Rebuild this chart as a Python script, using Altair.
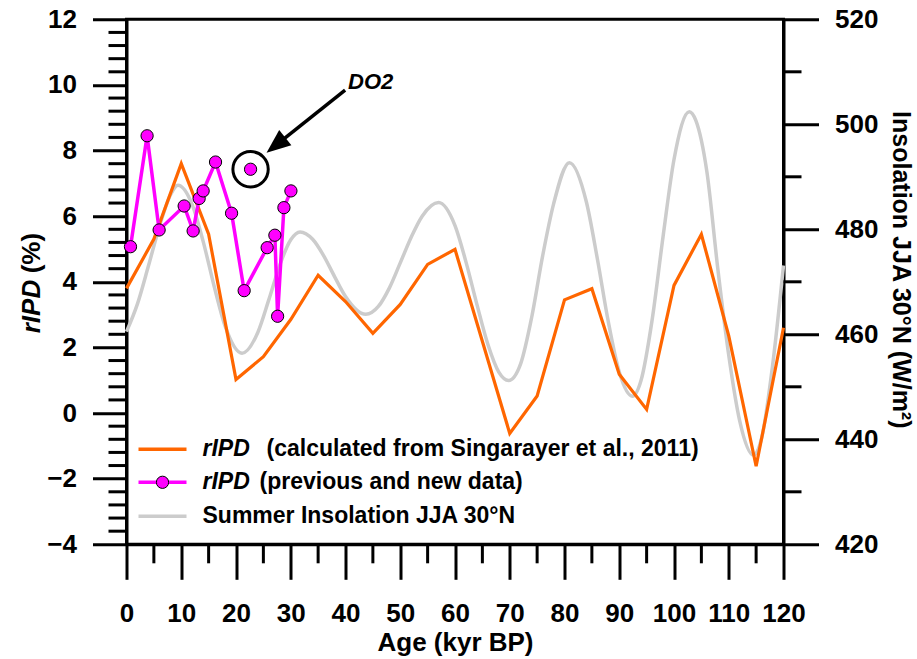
import altair as alt
import pandas as pd

FONT = "Liberation Sans"
ORANGE = "#ff6600"
MAGENTA = "#ff00ff"
GREY = "#cccccc"

# rIPD calculated from Singarayer et al. (2011) snapshots (kyr BP, %)
model_age = [0, 5, 10, 15, 20, 25, 30, 35, 40, 45, 50, 55, 60, 70, 75, 80, 85,
             90, 95, 100, 105, 110, 115, 120]
model_ripd = [3.8, 5.3, 7.6, 5.45, 1.02, 1.72, 2.85, 4.2, 3.4, 2.43, 3.31, 4.53,
              4.99, -0.62, 0.52, 3.45, 3.79, 1.18, 0.11, 3.89, 5.45, 2.35, -1.62, 2.6]

# rIPD reconstructions (previous and new data)
obs_age = [0.73, 3.76, 5.96, 10.53, 12.17, 13.27, 14.0, 16.26, 19.19, 21.49,
           25.69, 27.1, 27.6, 28.75, 30.03]
obs_ripd = [5.07, 8.45, 5.58, 6.31, 5.55, 6.54, 6.77, 7.65, 6.09, 3.73,
            5.04, 5.42, 2.95, 6.26, 6.77]

# Dansgaard-Oeschger event 2 sample
do2_age = [22.66]
do2_ripd = [7.43]

# Summer (JJA) insolation at 30°N, W/m2
ins_age = [0, 2, 4, 6, 8, 9.4, 12, 14, 16, 18, 21.1, 24, 26, 28, 30, 31.7, 34, 36,
           38, 40, 43.7, 46, 48, 50, 52, 54, 57, 60, 62, 64, 66, 68, 69.8, 72, 74,
           76, 78, 80.9, 84, 86, 88, 90, 92.4, 94, 96, 98, 100, 102.8, 104, 106,
           108, 110, 112, 114.5, 116, 118, 120]
ins_value = [460.5, 465.8, 473.0, 480.5, 486.5, 488.4, 484.7, 477.7, 469.2, 461.6,
             456.4, 460.4, 466.6, 473.2, 478.0, 479.5, 478.1, 475.0, 471.0, 467.2,
             463.8, 465.3, 468.8, 473.6, 478.5, 482.5, 485.1, 480.7, 473.8, 465.7,
             458.1, 452.8, 451.2, 454.4, 463.2, 474.9, 484.8, 492.7, 485.2, 474.4,
             462.4, 452.8, 448.2, 451.3, 462.7, 478.6, 493.3, 502.4, 500.7, 491.0,
             472.5, 456.0, 443.5, 437.0, 440.2, 454.0, 473.1]

# tick positions
x_major = [0, 10, 20, 30, 40, 50, 60, 70, 80, 90, 100, 110, 120]
x_minor = [5, 15, 25, 35, 45, 55, 65, 75, 85, 95, 105, 115]
left_major = [-4, -2, 0, 2, 4, 6, 8, 10, 12]
left_minor = [-3.6, -3.2, -2.8, -2.4, -1.6, -1.2, -0.8, -0.4, 0.4, 0.8, 1.2, 1.6,
              2.4, 2.8, 3.2, 3.6, 4.4, 4.8, 5.2, 5.6, 6.4, 6.8, 7.2, 7.6, 8.4, 8.8,
              9.2, 9.6, 10.4, 10.8, 11.2, 11.6]
right_major = [420, 440, 460, 480, 500, 520]
right_minor = [430, 450, 470, 490, 510]

W, H = 657, 525
AXIS_FONT_SIZE = 26

xs = alt.Scale(domain=[0, 120], nice=False, zero=False)
yl = alt.Scale(domain=[-4, 12], nice=False, zero=False)
yr = alt.Scale(domain=[420, 520], nice=False, zero=False)

axis_style = dict(
    tickColor="black", tickWidth=3, domainColor="black", domainWidth=3,
    labelFont=FONT, labelFontSize=AXIS_FONT_SIZE, labelFontWeight="bold",
    labelColor="black", titleFont=FONT, titleFontWeight="bold", titleColor="black",
    grid=False, labelOverlap=False, labelFlush=False,
)
x_axis = alt.Axis(values=x_major, tickSize=35, labelPadding=21,
                  title="Age (kyr BP)", titleFontSize=AXIS_FONT_SIZE, titlePadding=3,
                  **axis_style)
yl_axis = alt.Axis(values=left_major, tickSize=34, labelPadding=16,
                   orient="left", title="", **axis_style)
yr_axis = alt.Axis(values=right_major, tickSize=35, labelPadding=16, orient="right",
                   title="Insolation JJA 30°N (W/m²)", titleFontSize=25,
                   titlePadding=10, titleY=250, **axis_style)


def X(field):
    return alt.X(field, type="quantitative", scale=xs, axis=x_axis)


def YL(field):
    return alt.Y(field, type="quantitative", scale=yl, axis=yl_axis)


def YR(field):
    return alt.Y(field, type="quantitative", scale=yr, axis=yr_axis)


one = pd.DataFrame({"k": [0]})


def label(txt, x, y, size=23, italic=False, angle=0, align="left"):
    kw = dict(font=FONT, fontSize=size, fontWeight="bold", color="black",
              align=align, baseline="middle", text=txt)
    if italic:
        kw["fontStyle"] = "italic"
    if angle:
        kw["angle"] = angle
    return alt.Chart(one).mark_text(**kw).encode(x=alt.value(x), y=alt.value(y))


def legend_line(color, y, with_dot=False):
    line = alt.Chart(one).mark_rule(color=color, strokeWidth=3.5).encode(
        x=alt.value(12), x2=alt.value(60), y=alt.value(y))
    if not with_dot:
        return line
    dot = alt.Chart(one).mark_circle(size=150, color=color, opacity=1,
                                     stroke="black", strokeWidth=1).encode(
        x=alt.value(36), y=alt.value(y))
    return line + dot


# ---- insolation (right axis) ----
ins_df = pd.DataFrame({"age": ins_age, "ins": ins_value})
grey_line = alt.Chart(ins_df).mark_line(
    color=GREY, strokeWidth=3.5, interpolate="monotone").encode(
    x=X("age"), y=YR("ins"))
right_minor_ticks = alt.Chart(pd.DataFrame({"v": right_minor})).mark_rule(
    color="black", strokeWidth=3).encode(
    y=YR("v"), x=alt.value(W), x2=alt.value(W + 18))
right_group = alt.layer(grey_line, right_minor_ticks)

# ---- rIPD (left axis) ----
model_df = pd.DataFrame({"age": model_age, "ripd": model_ripd})
orange_line = alt.Chart(model_df).mark_line(color=ORANGE, strokeWidth=3.2).encode(
    x=X("age"), y=YL("ripd"))

obs_df = pd.DataFrame({"age": obs_age, "ripd": obs_ripd, "i": list(range(len(obs_age)))})
mag_line = alt.Chart(obs_df).mark_line(color=MAGENTA, strokeWidth=3.5).encode(
    x=X("age"), y=YL("ripd"), order="i:O")
mag_pts = alt.Chart(obs_df).mark_circle(size=150, color=MAGENTA, opacity=1,
                                        stroke="black", strokeWidth=1).encode(
    x=X("age"), y=YL("ripd"))

do2_df = pd.DataFrame({"age": do2_age, "ripd": do2_ripd})
do2_pt = alt.Chart(do2_df).mark_circle(size=150, color=MAGENTA, opacity=1,
                                       stroke="black", strokeWidth=1).encode(
    x=X("age"), y=YL("ripd"))
do2_ring = alt.Chart(do2_df).mark_point(shape="circle", size=1250, filled=False,
                                        color="black", strokeWidth=3,
                                        opacity=1).encode(x=X("age"), y=YL("ripd"))

# arrow pointing at the DO2 sample
arrow_df = pd.DataFrame({"x": [39.93], "y": [9.84], "x2": [27.72], "y2": [8.22]})
arrow_shaft = alt.Chart(arrow_df).mark_rule(color="black", strokeWidth=3.5).encode(
    x=X("x"), x2="x2:Q", y=YL("y"), y2="y2:Q")
arrow_head = alt.Chart(arrow_df).mark_point(
    shape="M0,-1L0.65,0.6L-0.65,0.6Z", size=900, filled=True, color="black",
    opacity=1, angle=231.3).encode(x=X("x2"), y=YL("y2"))
do2_text = alt.Chart(pd.DataFrame({"x": [44.6], "y": [10.09], "t": ["DO2"]})).mark_text(
    font=FONT, fontSize=22, fontWeight="bold", fontStyle="italic", color="black",
    align="center", baseline="middle").encode(x=X("x"), y=YL("y"), text="t:N")

# minor ticks on the left and bottom axes
left_minor_ticks = alt.Chart(pd.DataFrame({"v": left_minor})).mark_rule(
    color="black", strokeWidth=3).encode(
    y=YL("v"), x=alt.value(-18), x2=alt.value(0))
x_minor_ticks = alt.Chart(pd.DataFrame({"v": x_minor})).mark_rule(
    color="black", strokeWidth=3).encode(
    x=X("v"), y=alt.value(H), y2=alt.value(H + 19))

# left axis title with italic variable name
y_title = alt.layer(
    label("rIPD", -95, 314, size=AXIS_FONT_SIZE, italic=True, angle=270),
    label("(%)", -95, 254, size=AXIS_FONT_SIZE, angle=270),
)

# legend
legend = alt.layer(
    legend_line(ORANGE, 430),
    label("rIPD", 76, 430, italic=True),
    label("(calculated from Singarayer et al., 2011)", 140, 430),
    legend_line(MAGENTA, 463, with_dot=True),
    label("rIPD", 76, 463, italic=True),
    label("(previous and new data)", 133, 463),
    legend_line(GREY, 497),
    label("Summer Insolation JJA 30°N", 76, 497),
)

left_group = alt.layer(
    orange_line, mag_line, mag_pts, do2_ring, do2_pt, arrow_shaft, arrow_head,
    do2_text, left_minor_ticks, x_minor_ticks, y_title, legend,
)

chart = alt.layer(right_group, left_group).resolve_scale(
    y="independent"
).properties(
    width=W, height=H,
    padding={"left": 126.5, "top": 19.3, "right": 133.5, "bottom": 114.7},
    autosize=alt.AutoSizeParams(type="none"),
    background="white",
).configure_view(stroke="black", strokeWidth=3)

chart.save("out.html", embed_options={"renderer": "svg", "actions": False})
